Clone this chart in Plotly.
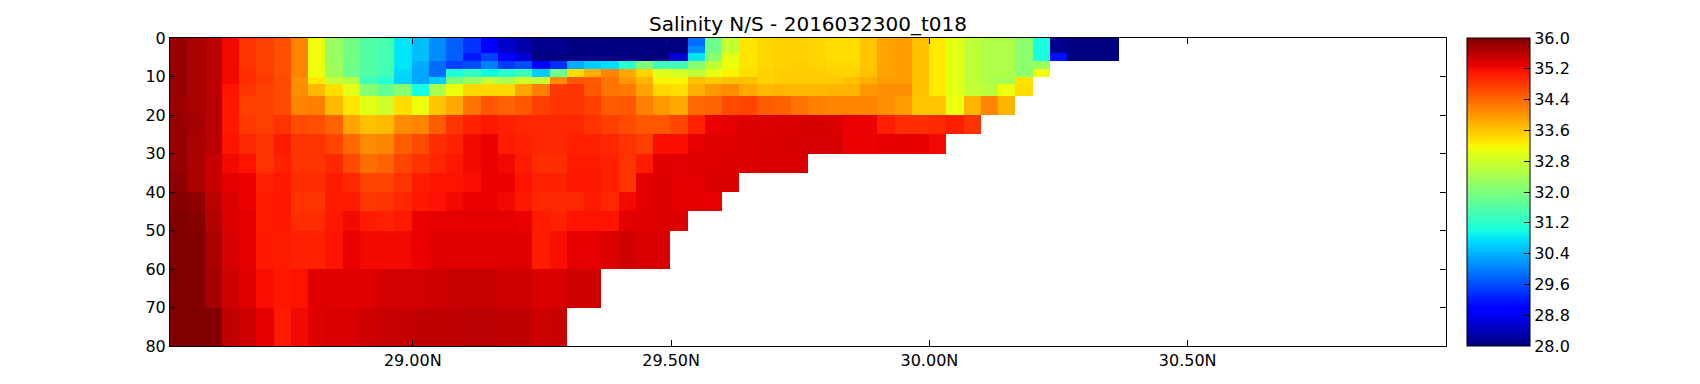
import plotly.graph_objects as go

title_text = "Salinity N/S - 2016032300_t018"
lon_start = 28.53
lon_step = 0.0334
n_cols = 55
depth_edges = [0, 2, 4, 6, 8, 10, 12, 15, 20, 25, 30, 35, 40, 45, 50, 60, 70, 80]

d0_2 = [35.85,35.7,35.6,35.2,34.85,34.75,34.6,34.15,33.1,32.25,31.9,31.6,31.5,30.8,30.5,30.1,29.75,29.4,29.0,28.5,28.3,28.1,28.1,28.0,28.0,28.0,28.0,28.0,
        28.0,28.0,29.85,31.85,32.7,33.35,33.45,33.5,33.5,33.47,33.4,33.4,33.6,33.9,33.95,33.65,33.3,33.0,32.65,32.5,32.5,32.15,31.05,28.1,28.0,28.0,28.0]
d2_4 = [35.85,35.7,35.6,35.2,34.85,34.75,34.6,34.15,33.1,32.25,31.9,31.6,31.5,30.8,30.5,30.1,29.75,29.4,29.0,28.5,28.3,28.1,28.1,28.0,28.0,28.0,28.0,28.0,
        28.0,28.0,30.1,31.85,32.7,33.35,33.45,33.5,33.5,33.47,33.4,33.4,33.6,33.9,33.95,33.65,33.3,33.0,32.65,32.5,32.5,32.15,31.05,28.1,28.0,28.0,28.0]
d4_6 = [35.85,35.7,35.6,35.2,34.85,34.75,34.6,34.15,33.1,32.25,31.9,31.6,31.5,30.8,30.5,30.1,29.75,29.2,29.5,29.0,28.6,28.0,28.0,28.0,28.0,28.0,28.0,28.0,
        28.0,28.6,30.8,32.1,33.0,33.35,33.45,33.5,33.5,33.47,33.4,33.4,33.6,33.9,33.95,33.65,33.3,33.0,32.65,32.5,32.5,32.15,31.05,29.1,28.0,28.0,28.0]
d6_8 = [35.85,35.7,35.6,35.2,34.85,34.75,34.6,34.15,33.1,32.3,31.9,31.6,31.5,30.8,30.35,29.85,29.5,29.6,30.0,29.45,29.6,28.9,29.35,30.35,30.6,30.75,31.2,32.0,
        31.4,31.4,32.1,32.65,33.1,33.35,33.45,33.5,33.55,33.5,33.45,33.45,33.6,33.9,33.95,33.65,33.3,33.0,32.65,32.5,32.5,32.15,32.3]
d8_10 = [35.85,35.7,35.6,35.2,34.9,34.75,34.6,34.15,33.1,32.35,31.85,31.6,31.45,30.7,30.3,29.85,31.1,31.3,30.95,31.2,31.4,30.6,31.85,33.4,33.8,34.15,33.85,33.5,
         33.0,32.85,32.65,33.0,33.2,33.4,33.5,33.55,33.55,33.55,33.5,33.5,33.65,33.9,33.95,33.65,33.3,33.0,32.65,32.5,32.5,32.15,33.1]
d10_12 = [35.85,35.7,35.6,35.2,34.9,34.8,34.65,34.05,33.3,32.7,32.55,31.4,31.15,30.65,30.3,30.6,32.0,32.25,32.7,32.45,32.8,32.75,34.1,34.55,34.5,34.3,34.0,33.75,
          33.2,33.2,33.65,33.55,33.65,33.65,33.5,33.55,33.57,33.57,33.57,33.65,33.8,33.95,33.95,33.65,33.3,33.0,32.65,32.5,32.4,33.35]
d12_15 = [35.85,35.7,35.6,35.12,34.85,34.75,34.65,34.1,33.7,33.4,33.0,32.1,31.75,32.1,31.0,32.45,33.1,33.45,33.45,33.45,33.9,34.2,34.8,34.85,34.55,34.3,34.25,33.9,
          33.45,33.4,33.8,34.0,34.1,33.85,33.7,33.75,33.7,33.7,33.75,33.75,34.0,34.05,34.05,33.65,33.3,33.0,32.7,32.6,33.1,33.4]
d15_20 = [35.8,35.7,35.6,35.08,34.75,34.75,34.65,34.15,34.2,33.7,33.35,33.0,32.8,33.4,33.1,33.6,33.85,34.3,34.55,34.45,34.55,34.75,34.85,34.85,34.75,34.5,34.55,34.2,
          34.0,33.85,34.4,34.45,34.65,34.7,34.5,34.47,34.3,34.2,34.15,34.17,34.15,34.05,33.95,33.6,33.6,33.1,33.75,34.15,33.75]
d20_25 = [35.85,35.75,35.6,35.08,34.8,34.75,34.85,34.65,34.6,34.45,33.9,33.65,33.7,34.1,34.15,34.5,34.85,35.0,35.08,35.0,34.95,34.95,34.95,34.95,34.85,34.75,34.65,34.55,
          34.55,34.7,35.0,35.26,35.3,35.36,35.36,35.37,35.37,35.4,35.36,35.26,35.26,35.03,34.9,34.9,34.95,35.03,34.85]
d25_30 = [35.85,35.7,35.6,35.12,34.95,34.85,35.05,34.85,34.85,34.7,34.4,34.1,34.15,34.5,34.65,34.9,35.0,35.2,35.26,35.05,35.0,34.95,34.95,35.0,35.0,34.95,34.85,34.75,
          35.16,35.16,35.3,35.33,35.33,35.36,35.37,35.37,35.4,35.4,35.4,35.26,35.26,35.29,35.29,35.29,35.2]
d30_35 = [35.85,35.7,35.5,35.2,35.12,34.85,35.0,34.85,34.85,34.95,34.65,34.35,34.45,34.7,34.85,34.95,35.08,35.2,35.26,35.2,35.05,34.9,34.9,35.05,35.05,35.0,34.85,35.05,
          35.33,35.32,35.33,35.33,35.36,35.36,35.37,35.37,35.37]
d35_40 = [35.9,35.7,35.5,35.3,35.26,35.0,35.08,34.9,34.9,35.05,34.95,34.7,34.7,34.85,35.05,35.12,35.12,35.16,35.26,35.26,35.12,35.0,35.0,35.08,35.08,35.0,34.85,35.3,
          35.36,35.3,35.3,35.37,35.37]
d40_45 = [35.95,35.9,35.6,35.36,35.26,35.05,35.08,34.85,34.85,35.05,35.05,34.8,34.85,34.95,35.08,35.12,35.2,35.26,35.26,35.2,35.08,34.95,34.95,34.95,35.05,34.95,35.2,35.3,
          35.36,35.3,35.3,35.3]
d45_50 = [36.0,35.95,35.65,35.36,35.3,35.05,35.08,34.9,34.9,35.08,35.2,35.05,35.0,35.05,35.26,35.3,35.3,35.3,35.3,35.3,35.26,35.05,35.0,35.12,35.12,35.12,35.3,35.33,
          35.36,35.36]
d50_60 = [36.0,35.97,35.7,35.4,35.3,35.08,35.05,35.0,35.0,35.12,35.26,35.2,35.2,35.2,35.26,35.33,35.33,35.33,35.33,35.33,35.33,35.05,35.16,35.3,35.3,35.36,35.45,35.37,
          35.37]
d60_70 = [36.0,35.97,35.75,35.45,35.33,35.16,35.08,35.12,35.33,35.33,35.33,35.33,35.42,35.43,35.42,35.45,35.5,35.5,35.5,35.45,35.45,35.37,35.37,35.45,35.45]
d70_80 = [36.0,36.0,35.97,35.55,35.45,35.3,35.05,35.2,35.33,35.38,35.38,35.47,35.5,35.52,35.55,35.57,35.57,35.6,35.6,35.57,35.57,35.45,35.5]

rows = [d0_2, d2_4, d4_6, d6_8, d8_10, d10_12, d12_15, d15_20, d20_25, d25_30,
        d30_35, d35_40, d40_45, d45_50, d50_60, d60_70, d70_80]
z = [r + [None] * (n_cols - len(r)) for r in rows]
lon_edges = [lon_start + i * lon_step for i in range(n_cols + 1)]

x_tick_vals = [29.0, 29.5, 30.0, 30.5]
x_tick_text = ["29.00N", "29.50N", "30.00N", "30.50N"]
y_tick_vals = [0, 10, 20, 30, 40, 50, 60, 70, 80]
cb_tick_vals = [28.0, 28.8, 29.6, 30.4, 31.2, 32.0, 32.8, 33.6, 34.4, 35.2, 36.0]

jet = [
    [0.0, "rgb(0,0,128)"], [0.11, "rgb(0,0,255)"], [0.125, "rgb(0,0,255)"],
    [0.34, "rgb(0,219,255)"], [0.35, "rgb(0,230,247)"], [0.375, "rgb(21,255,226)"],
    [0.64, "rgb(239,255,8)"], [0.65, "rgb(247,246,0)"], [0.66, "rgb(255,236,0)"],
    [0.89, "rgb(255,19,0)"], [0.91, "rgb(232,0,0)"], [1.0, "rgb(128,0,0)"],
]

font = "DejaVu Sans"
fig = go.Figure(go.Heatmap(
    x=lon_edges, y=depth_edges, z=z, zmin=28, zmax=36, colorscale=jet,
    hoverongaps=False,
    colorbar=dict(
        x=1.0162, xanchor="left", xpad=0, y=0.5, yanchor="middle", ypad=0,
        len=1, lenmode="fraction", thickness=63, thicknessmode="pixels",
        outlinecolor="black", outlinewidth=1, tickmode="array", tickvals=cb_tick_vals,
        tickformat=".1f", ticks="inside", ticklen=6, tickcolor="black", tickwidth=1,
        tickfont=dict(family=font, size=16, color="black"),
    ),
))
fig.update_layout(
    width=1692, height=376, autosize=False, plot_bgcolor="white", paper_bgcolor="white",
    margin=dict(l=162, r=254, t=30, b=38),
    title=dict(text=title_text, xref="paper", x=0.5, xanchor="center",
               y=1 - 16 / 376, yanchor="middle",
               font=dict(family=font, size=20, color="black")),
)
fig.update_xaxes(range=[28.53, 31.0], tickmode="array", tickvals=x_tick_vals, ticktext=x_tick_text,
                 ticks="inside", ticklen=6, tickcolor="black", tickwidth=1,
                 showline=True, mirror="ticks", linecolor="black", linewidth=1, showgrid=False,
                 zeroline=False, tickfont=dict(family=font, size=16, color="black"))
fig.update_yaxes(range=[80, 0], tickmode="array", tickvals=y_tick_vals,
                 ticks="inside", ticklen=6, tickcolor="black", tickwidth=1,
                 showline=True, mirror="ticks", linecolor="black", linewidth=1, showgrid=False,
                 zeroline=False, tickfont=dict(family=font, size=16, color="black"))

fig.write_html("out.html")
